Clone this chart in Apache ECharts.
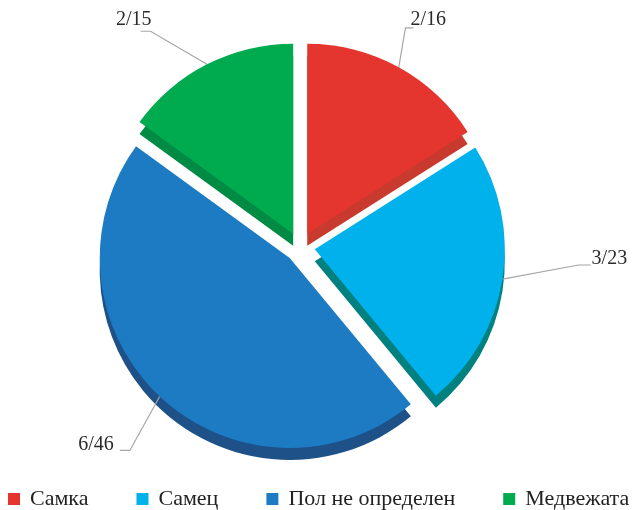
<!DOCTYPE html>
<html>
<head>
<meta charset="utf-8">
<script src="https://cdn.jsdelivr.net/npm/echarts@6/dist/echarts.min.js"></script>
<style>
  html, body { margin: 0; padding: 0; background: #fff; }
  #chart { width: 636px; height: 510px; }
</style>
</head>
<body>
<div id="chart"></div>
<script>
// Bear observations by group: count and percentage share
const categories = ['Самка', 'Самец', 'Пол не определен', 'Медвежата'];
const counts = [2, 3, 6, 2];
const percents = [16, 23, 46, 15];

// Face colours and the darker tones used for the slab's side
const faceColors = ['#e5352f', '#00b1ec', '#1c7bc2', '#00aa4f'];
const sideColors = ['#c93a2e', '#00807e', '#1f5189', '#008b44'];

// Leader line lengths per slice [radial, horizontal]
const leaderLengths = [[45, 8], [70, 12], [48, 10], [36, 10]];
// Nudges of each label text from its default spot [dx, dy]
const labelNudges = [[-23, -8], [3, -31], [2, 13], [-24, -13]];
// Nudges of the leader's elbow and end point [dx, dy]
const leaderNudges = [[-15, 0], [7, -25], [3, 19], [-40, -1]];

const FONT = '"Liberation Serif", "DejaVu Serif", serif';
const CX = 300, CY = 247, R = 190, DEPTH = 12, EXPLODE = 15;

const faceData = categories.map((name, i) => ({
  name,
  value: percents[i],
  selected: true,
  itemStyle: { color: faceColors[i] },
  labelLine: { length: leaderLengths[i][0], length2: leaderLengths[i][1] }
}));

const sideData = categories.map((name, i) => ({
  name,
  value: percents[i],
  selected: true,
  itemStyle: { color: sideColors[i] }
}));

function layoutLabel(p) {
  const i = p.dataIndex;
  const out = { dx: labelNudges[i][0], dy: labelNudges[i][1] };
  const pts = p.labelLinePoints;
  if (pts && pts.length === 3) {
    const [mx, my] = leaderNudges[i];
    out.labelLinePoints = [
      [pts[0][0], pts[0][1]],
      [pts[1][0] + mx, pts[1][1] + my],
      [pts[2][0] + mx, pts[2][1] + my]
    ];
  }
  return out;
}

const chart = echarts.init(document.getElementById('chart'), null, { renderer: 'canvas' });

chart.setOption({
  animation: false,
  backgroundColor: '#ffffff',
  legend: {
    data: categories.map((name, i) => ({ name, itemStyle: { color: faceColors[i] } })),
    bottom: -5,
    left: 3,
    itemGap: 48,
    itemWidth: 12,
    itemHeight: 12,
    icon: 'rect',
    selectedMode: false,
    textStyle: {
      fontFamily: FONT,
      fontSize: 22,
      color: '#222',
      padding: [0, 0, 0, 5]
    }
  },
  series: [
    {
      type: 'pie',
      name: 'face',
      center: [CX, CY],
      radius: [0, R],
      startAngle: 90,
      clockwise: true,
      selectedMode: 'multiple',
      selectedOffset: EXPLODE,
      emphasis: { disabled: true },
      z: 2,
      label: {
        show: true,
        position: 'outside',
        fontFamily: FONT,
        fontSize: 20,
        color: '#2b2b2b',
        formatter: p => counts[p.dataIndex] + '/' + p.value
      },
      labelLine: {
        show: true,
        smooth: false,
        lineStyle: { color: '#a6a6a6', width: 1.2 }
      },
      labelLayout: layoutLabel,
      data: faceData
    },
    {
      // lower copy forming the visible thickness of the slab
      type: 'pie',
      name: 'side',
      silent: true,
      center: [CX, CY + DEPTH],
      radius: [0, R],
      startAngle: 90,
      clockwise: true,
      selectedMode: 'multiple',
      selectedOffset: EXPLODE,
      label: { show: false },
      labelLine: { show: false },
      emphasis: { disabled: true },
      legendHoverLink: false,
      z: 1,
      data: sideData
    }
  ]
});
</script>
</body>
</html>
